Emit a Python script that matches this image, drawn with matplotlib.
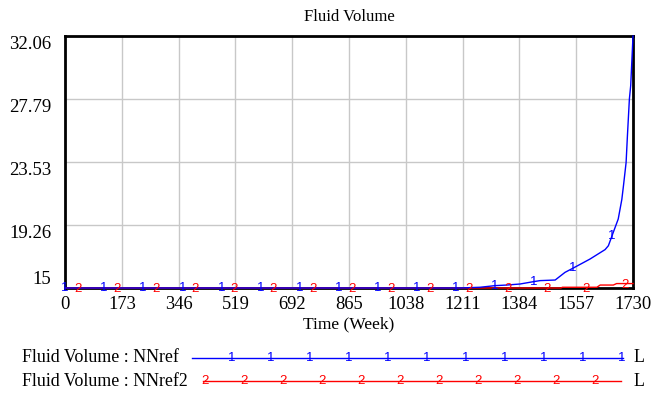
import numpy as np
import matplotlib
matplotlib.use("Agg")
import matplotlib.pyplot as plt
from matplotlib.lines import Line2D

# ---- data ----
title = "Fluid Volume"
xlabel = "Time (Week)"
x_ticks = [0, 173, 346, 519, 692, 865, 1038, 1211, 1384, 1557, 1730]
y_ticks = [15, 19.26, 23.53, 27.79, 32.06]
y_tick_labels = ["15", "19.26", "23.53", "27.79", "32.06"]

nnref_weeks = [0, 1203, 1264, 1310, 1345, 1386, 1427, 1447, 1493, 1523, 1548,
               1599, 1645, 1655, 1670, 1685, 1696, 1701, 1709, 1713, 1719, 1723, 1730]
nnref_vals = [15.0, 15.0, 15.05, 15.16, 15.2, 15.27, 15.43, 15.5, 15.54, 16.06, 16.35,
              16.96, 17.6, 17.86, 18.77, 19.67, 21.0, 21.93, 23.5, 25.3, 27.8, 28.7, 32.06]

nnref2_weeks = [0, 1510, 1515, 1620, 1630, 1670, 1680, 1730]
nnref2_vals = [15.0, 15.0, 15.05, 15.05, 15.2, 15.2, 15.3, 15.3]

legend_labels = ["Fluid Volume : NNref", "Fluid Volume : NNref2"]
BLUE = "#0000ff"
RED = "#ff0000"

# ---- figure ----
W, H = 655, 394
fig = plt.figure(figsize=(W / 100, H / 100), dpi=100)
serif = ["Liberation Serif", "DejaVu Serif"]

L, R, T, B = 65, 633, 36, 288
ax = fig.add_axes([L / W, 1 - B / H, (R - L) / W, (B - T) / H])
ax.set_xlim(0, 1730)
ax.set_ylim(15, 32.06)

ax.set_xticks(x_ticks)
ax.set_xticklabels([str(t) for t in x_ticks], fontfamily=serif, fontsize=13.3)
ax.set_yticks(y_ticks)
ax.set_yticklabels(y_tick_labels, fontfamily=serif, fontsize=13.5)
ax.tick_params(axis="both", length=0)
ax.tick_params(axis="x", pad=5.5)
ax.tick_params(axis="y", pad=10)
for lab in ax.get_yticklabels():
    txt = lab.get_text()
    if txt == "15":
        lab.set_va("bottom")
    else:
        lab.set_va("top")

ax.grid(True, color="#c8c8c8", linewidth=1.0)
ax.set_axisbelow(True)
for s in ax.spines.values():
    s.set_color("black")
    s.set_linewidth(2.0)

ax.plot(nnref_weeks, nnref_vals, color=BLUE, linewidth=1.0, zorder=4, clip_on=False)
ax.plot(nnref2_weeks, nnref2_vals, color=RED, linewidth=1.0, zorder=3, clip_on=False)

# numbered markers, as in Vensim
mfont = dict(family=["Liberation Sans", "DejaVu Sans"], fontsize=9.5)
for k in range(15):
    w = 119 * k
    ax.text(w, np.interp(w, nnref_weeks, nnref_vals), "1", color=BLUE,
            ha="center", va="center", zorder=6, clip_on=False, **mfont)
    w2 = 40 + 119 * k
    ax.text(w2, np.interp(w2, nnref2_weeks, nnref2_vals) - 0.1, "2", color=RED,
            ha="center", va="center", zorder=6, clip_on=False, **mfont)

fig.text(349 / W, 1 - 17 / H, title, ha="center", va="center",
         fontfamily=serif, fontsize=12)
fig.text(349 / W, 1 - 324 / H, xlabel, ha="center", va="center",
         fontfamily=serif, fontsize=12.6)

# ---- legend ----
rows = [(358, BLUE, "1", 192, 623, 232), (381, RED, "2", 203, 621, 205)]
for (yp, col, mk, x0, x1, m0), lab in zip(rows, legend_labels):
    yf = 1 - yp / H
    fig.text(22 / W, yf, lab, ha="left", va="center", fontfamily=serif, fontsize=12.9)
    fig.add_artist(Line2D([x0 / W, x1 / W], [yf, yf], color=col, linewidth=1.0,
                          transform=fig.transFigure))
    for k in range(11):
        fig.text((m0 + 39 * k) / W, yf, mk, color=col, ha="center", va="center", **mfont)
    fig.text(633 / W, yf, "L", ha="left", va="center", fontfamily=serif, fontsize=12.9)

fig.savefig("out.png", dpi=100)
